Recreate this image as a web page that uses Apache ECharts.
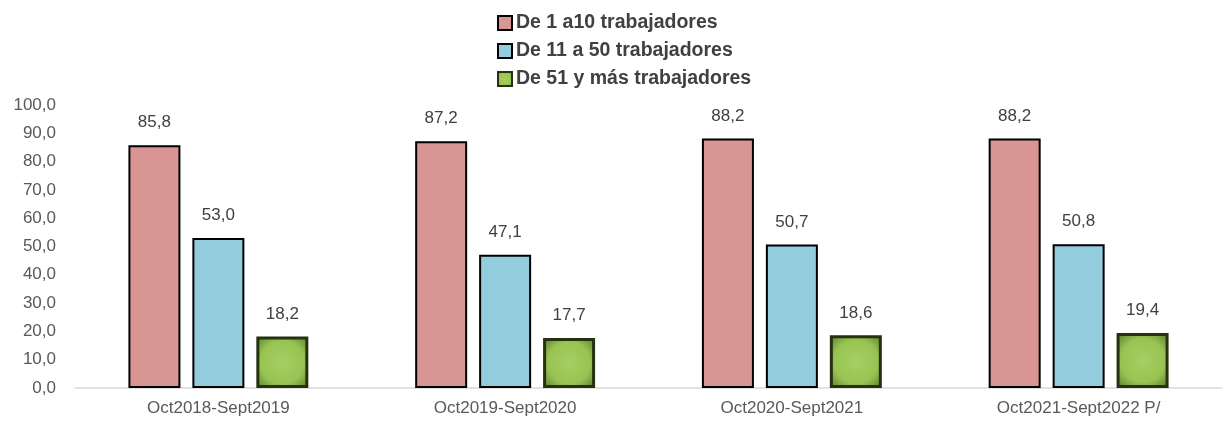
<!DOCTYPE html>
<html>
<head>
<meta charset="utf-8">
<script src="https://cdn.jsdelivr.net/npm/echarts@6/dist/echarts.min.js"></script>
<style>html,body{margin:0;padding:0;background:#fff}#c{width:1227px;height:423px}</style>
</head>
<body>
<div id="c"></div>
<script>
var periodos = ['Oct2018-Sept2019', 'Oct2019-Sept2020', 'Oct2020-Sept2021', 'Oct2021-Sept2022 P/'];
var serieNombres = ['De 1 a10 trabajadores', 'De 11 a 50 trabajadores', 'De 51 y más trabajadores'];
var de1a10 = [85.8, 87.2, 88.2, 88.2];
var de11a50 = [53.0, 47.1, 50.7, 50.8];
var de51ymas = [18.2, 17.7, 18.6, 19.4];

var fuente = '"Liberation Sans", Arial, sans-serif';
var verde = new echarts.graphic.RadialGradient(0.5, 0.5, 0.7, [
  {offset: 0, color: '#a6cf63'},
  {offset: 0.6, color: '#98c453'},
  {offset: 1, color: '#5d7a2c'}
]);

function etiqueta(){
  return {show: true, position: 'top', distance: 14, fontFamily: fuente, fontSize: 17, color: '#404040',
    formatter: function(p){ return p.value.toFixed(1).replace('.', ','); }};
}

var chart = echarts.init(document.getElementById('c'));
chart.setOption({
  animation: false,
  legend: {
    orient: 'vertical', left: 492, top: 8, itemGap: 8, itemWidth: 14, itemHeight: 14,
    icon: 'rect',
    textStyle: {fontFamily: fuente, fontSize: 19.5, color: '#404040', fontWeight: 'bold', padding: [0, 0, 0, -1]},
    data: serieNombres
  },
  grid: {left: 75, right: 5, top: 105, bottom: 35},
  xAxis: {
    type: 'category', data: periodos,
    axisLine: {lineStyle: {color: '#d9d9d9', width: 1.5}},
    axisTick: {show: false},
    axisLabel: {fontFamily: fuente, fontSize: 17, color: '#595959', margin: 12}
  },
  yAxis: {
    type: 'value', min: 0, max: 100, interval: 10,
    splitLine: {show: false},
    axisLabel: {fontFamily: fuente, fontSize: 17, color: '#595959', margin: 19,
      formatter: function(v){ return v.toFixed(1).replace('.', ','); }}
  },
  series: [
    {name: serieNombres[0], type: 'bar', data: de1a10, barWidth: 52, barGap: '23%',
      itemStyle: {color: '#d99594', borderColor: '#000', borderWidth: 2}, label: etiqueta()},
    {name: serieNombres[1], type: 'bar', data: de11a50, barWidth: 52, barGap: '23%',
      itemStyle: {color: '#93cddd', borderColor: '#000', borderWidth: 2}, label: etiqueta()},
    {name: serieNombres[2], type: 'bar', data: de51ymas, barWidth: 52, barGap: '23%',
      itemStyle: {color: verde, borderColor: '#253210', borderWidth: 3}, label: etiqueta()}
  ]
});
</script>
</body>
</html>
